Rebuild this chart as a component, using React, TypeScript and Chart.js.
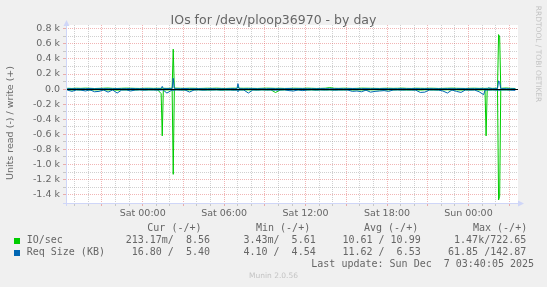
import React, { useEffect, useRef } from 'react';
import { Chart, registerables } from 'chart.js';

Chart.register(...registerables);

// Time axis: hours relative to Sat 00:00, base samples every 20 minutes
const baseStartHour = -5.55;
const baseStepHour = 1 / 3;

// IO/sec write (+)
const ioWriteBase = [
  11, 9, 12, 10, 13, 11, 8, 10, 12, 14,
  10, 9, 11, 13, 12, 10, 9, 11, 12, 10,
  11, 12, 10, 9, 13, 11, 10, 12, 11, 9,
  10, 12, 11, 13, 10, 9, 11, 12, 10, 11,
  12, 10, 9, 11, 13, 12, 10, 11, 9, 10,
  12, 11, 10, 13, 11, 9, 10, 12, 20, 11,
  10, 12, 11, 9, 10, 13, 12, 11, 10, 9,
  11, 12, 10, 11, 13, 10, 9, 12, 11, 10,
  12, 11, 9, 10, 12, 13, 11, 10, 9, 11,
  12, 10, 11, 12, 10, 9, 11, 15, 10, 8.56,
];
// IO/sec read (-)
const ioReadBase = [
  -10, -12, -9, -11, -8, -13, -10, -9, -12, -11,
  -10, -14, -9, -11, -10, -12, -8, -11, -10, -9,
  -12, -10, -11, -13, -9, -10, -12, -11, -10, -9,
  -11, -12, -10, -9, -13, -11, -10, -12, -9, -10,
  -11, -10, -12, -9, -11, -10, -45, -12, -10, -11,
  -9, -10, -12, -11, -10, -13, -9, -11, -10, -12,
  -10, -11, -9, -12, -10, -11, -13, -10, -9, -11,
  -12, -10, -11, -9, -10, -12, -11, -10, -13, -9,
  -10, -11, -12, -10, -9, -11, -10, -12, -11, -10,
  -9, -12, -10, -11, -10, -12, -9, -11, -10, -0.21,
];
// Req Size write (+)
const reqWriteBase = [
  6, 5, 7, 5, 6, 8, 5, 6, 7, 5,
  6, 7, 5, 6, 8, 6, 5, 7, 6, 5,
  6, 5, 7, 6, 5, 6, 8, 5, 6, 7,
  5, 6, 7, 5, 6, 5, 7, 6, 8, 5,
  6, 7, 5, 6, 5, 7, 6, 5, 6, 8,
  5, 6, 7, 5, 6, 5, 7, 6, 5, 6,
  7, 5, 6, 8, 5, 6, 7, 5, 6, 5,
  7, 6, 5, 6, 7, 5, 6, 8, 5, 6,
  7, 5, 6, 5, 7, 6, 5, 6, 7, 5,
  6, 5, 7, 15, 6, 5, 7, 6, 5, 5.4,
];
// Req Size read (-)
const reqReadBase = [
  -12, -30, -11, -13, -25, -10, -35, -30, -12, -40,
  -11, -52, -13, -10, -25, -12, -11, -14, -10, -12,
  -13, -11, -52, -12, -10, -13, -11, -39, -12, -10,
  -14, -11, -12, -10, -13, -11, -12, -14, -11, -12,
  -52, -11, -13, -10, -12, -11, -14, -12, -10, -20,
  -25, -11, -20, -12, -10, -13, -11, -12, -10, -14,
  -12, -11, -13, -30, -25, -35, -14, -40, -30, -25,
  -20, -30, -12, -11, -13, -10, -12, -14, -44, -40,
  -12, -11, -13, -25, -52, -12, -30, -44, -11, -13,
  -12, -35, -74, -12, -11, -13, -12, -10, -14, -16.8,
];

// Short bursts (5-minute samples)
const spikeHours = [1.36, 1.44, 1.52, 2.17, 2.25, 2.33, 6.94, 7.02, 7.1, 25.22, 25.3, 25.38, 26.14, 26.22, 26.3, 26.38];
const spikeIoRead = [-60, -620, -12, -10, -1130, -15, -9, -12, -10, -14, -620, -12, -11, -1470, -1420, -10];
const spikeIoWrite = [10, 12, 11, 12, 530, 14, 10, 30, 12, 9, 11, 10, 12, 722.65, 690, 11];
const spikeReqRead = [-12, -10, -14, -12, -20, -15, -12, -35, -11, -15, -14, -12, -13, -20, -18, -12];
const spikeReqWrite = [5, 36, 6, 6, 143, 7, 5, 72, 6, 5, 6, 5, 6, 110, 90, 5];

const xTickHours = [0, 6, 12, 18, 24];
const xTickLabels = ['Sat 00:00', 'Sat 06:00', 'Sat 12:00', 'Sat 18:00', 'Sun 00:00'];
const yTickValues = [800, 600, 400, 200, 0, -200, -400, -600, -800, -1000, -1200, -1400];
const yTickLabels = ['0.8 k', '0.6 k', '0.4 k', '0.2 k', '0.0', '-0.2 k', '-0.4 k', '-0.6 k', '-0.8 k', '-1.0 k', '-1.2 k', '-1.4 k'];

const legendNames = ['IO/sec', 'Req Size (KB)'];
const legendColors = ['#00CC00', '#0066B3'];
const curText = ['213.17m/  8.56', '16.80 /  5.40'];
const minText = ['3.43m/  5.61', '4.10 /  4.54'];
const avgText = ['10.61 / 10.99', '11.62 /  6.53'];
const maxText = ['1.47k/722.65', '61.85 /142.87'];
const headerText = ['Cur (-/+)', 'Min (-/+)', 'Avg (-/+)', 'Max (-/+)'];

const MGRID = 'rgba(222,79,79,0.42)';
const GRID = 'rgba(143,143,143,0.42)';
const AXIS = '#CFD6F8';
const FONT = '#666666';

function buildSeries(base: number[], spikes: number[]) {
  const pts: { x: number; y: number }[] = [];
  base.forEach((v, k) => {
    const t = baseStartHour + k * baseStepHour;
    if (spikeHours.some((s) => Math.abs(s - t) < 0.06)) return;
    pts.push({ x: t, y: v });
  });
  spikeHours.forEach((t, i) => pts.push({ x: t, y: spikes[i] }));
  pts.sort((a, b) => a.x - b.x);
  return pts;
}

const decorPlugin = {
  id: 'decor',
  beforeDraw(chart: any) {
    const { ctx, chartArea: a } = chart;
    ctx.save();
    ctx.fillStyle = '#FFFFFF';
    ctx.fillRect(a.left, a.top, a.right - a.left, a.bottom - a.top);
    ctx.restore();
  },
  afterDatasetsDraw(chart: any) {
    const { ctx, chartArea: a, scales } = chart;
    const y0 = Math.round(scales.y.getPixelForValue(0)) + 0.5;
    ctx.save();
    ctx.strokeStyle = '#000000';
    ctx.lineWidth = 1;
    ctx.beginPath();
    ctx.moveTo(a.left, y0);
    ctx.lineTo(a.right, y0);
    ctx.stroke();
    ctx.restore();
  },
  afterDraw(chart: any) {
    const { ctx, chartArea: a } = chart;
    const xl = a.left + 0.5;
    const yb = Math.round(a.bottom) + 0.5;
    ctx.save();
    ctx.strokeStyle = AXIS;
    ctx.fillStyle = AXIS;
    ctx.lineWidth = 1;
    ctx.beginPath();
    ctx.moveTo(a.left - 3, yb);
    ctx.lineTo(a.right + 1, yb);
    ctx.moveTo(xl, a.bottom + 3);
    ctx.lineTo(xl, a.top - 2);
    ctx.stroke();
    ctx.beginPath();
    ctx.moveTo(a.right, yb - 3);
    ctx.lineTo(a.right + 6, yb);
    ctx.lineTo(a.right, yb + 3);
    ctx.closePath();
    ctx.fill();
    ctx.beginPath();
    ctx.moveTo(xl - 3, a.top + 1);
    ctx.lineTo(xl, a.top - 5);
    ctx.lineTo(xl + 3, a.top + 1);
    ctx.closePath();
    ctx.fill();
    ctx.restore();
  },
};

const isMult = (v: number, m: number) => Math.abs(v / m - Math.round(v / m)) < 1e-6;

export default function App() {
  const canvasRef = useRef<HTMLCanvasElement | null>(null);

  useEffect(() => {
    if (!canvasRef.current) return;
    const tickFont = { family: 'DejaVu Sans', size: 9.5 };
    const chart = new Chart(canvasRef.current, {
      type: 'line',
      data: {
        datasets: [
          { label: 'Req Size write', data: buildSeries(reqWriteBase, spikeReqWrite), borderColor: '#0066B3' },
          { label: 'Req Size read', data: buildSeries(reqReadBase, spikeReqRead), borderColor: '#0066B3' },
          { label: 'IO/sec write', data: buildSeries(ioWriteBase, spikeIoWrite), borderColor: '#00CC00' },
          { label: 'IO/sec read', data: buildSeries(ioReadBase, spikeIoRead), borderColor: '#00CC00' },
        ],
      },
      options: {
        animation: false,
        responsive: false,
        maintainAspectRatio: false,
        devicePixelRatio: 1,
        events: [],
        layout: { padding: { left: 0, right: 29, top: 25, bottom: 64 } },
        plugins: { legend: { display: false }, title: { display: false }, tooltip: { enabled: false } },
        elements: { point: { radius: 0 }, line: { borderWidth: 1, tension: 0, fill: false } },
        scales: {
          x: {
            type: 'linear',
            min: -5.65,
            max: 27.65,
            afterFit: (s: any) => { s.height = 20; },
            ticks: {
              stepSize: 1,
              autoSkip: false,
              maxRotation: 0,
              minRotation: 0,
              includeBounds: false,
              padding: 2,
              color: FONT,
              font: tickFont,
              callback: (v: any) => {
                const i = xTickHours.indexOf(Number(v));
                return i >= 0 ? xTickLabels[i] : '';
              },
            },
            grid: {
              color: (c: any) => (isMult(c.tick.value, 3) ? MGRID : GRID),
              tickColor: (c: any) => (isMult(c.tick.value, 3) ? MGRID : GRID),
              tickLength: 3,
              lineWidth: 1,
            },
            border: { display: false, dash: [1, 1] },
          },
          y: {
            type: 'linear',
            min: -1510,
            max: 850,
            afterFit: (s: any) => { s.width = 66; },
            ticks: {
              stepSize: 100,
              autoSkip: false,
              includeBounds: false,
              padding: 3,
              color: FONT,
              font: tickFont,
              callback: (v: any) => {
                const i = yTickValues.indexOf(Number(v));
                return i >= 0 ? yTickLabels[i] : '';
              },
            },
            grid: {
              color: (c: any) => (c.tick.value <= -1500 ? 'rgba(0,0,0,0)' : isMult(c.tick.value, 200) ? MGRID : GRID),
              tickColor: (c: any) => (c.tick.value <= -1500 ? 'rgba(0,0,0,0)' : isMult(c.tick.value, 200) ? MGRID : GRID),
              tickLength: 3,
              lineWidth: 1,
            },
            border: { display: false, dash: [1, 1] },
          },
        },
      },
      plugins: [decorPlugin],
    } as any);
    return () => chart.destroy();
  }, []);

  const mono: React.CSSProperties = {
    position: 'absolute',
    fontFamily: '"DejaVu Sans Mono", monospace',
    fontSize: 10,
    lineHeight: '10px',
    color: FONT,
    whiteSpace: 'pre',
  };
  const rowBase = [243.3, 255.5];
  const valueRight = [210, 315.7, 420.7, 526.3];
  const valueCols = [curText, minText, avgText, maxText];
  const headerLeft = [147.3, 256, 364, 473];

  return (
    <div style={{ position: 'absolute', left: 0, top: 0, width: 547, height: 287, background: '#F0F0F0', overflow: 'hidden' }}>
      <canvas ref={canvasRef} width={547} height={287} style={{ display: 'block', width: 547, height: 287 }} />
      <div style={{ position: 'absolute', left: 0, width: 547, top: 24.3 - 10.6, textAlign: 'center', fontFamily: '"DejaVu Sans"', fontSize: 12.5, lineHeight: '12.5px', color: FONT, whiteSpace: 'pre' }}>
        IOs for /dev/ploop36970 - by day
      </div>
      <div style={{ position: 'absolute', left: 10 - 100, top: 123.3 - 5, width: 200, height: 10, textAlign: 'center', fontFamily: '"DejaVu Sans"', fontSize: 9.5, lineHeight: '10px', color: FONT, transform: 'rotate(-90deg)', whiteSpace: 'pre' }}>
        Units read (-) / write (+)
      </div>
      <div style={{ position: 'absolute', left: 537.7 - 60, top: 53.5 - 4, width: 120, height: 8, textAlign: 'center', fontFamily: '"DejaVu Sans"', fontSize: 7.5, lineHeight: '8px', color: '#C4C4C4', transform: 'rotate(90deg)', whiteSpace: 'pre' }}>
        RRDTOOL / TOBI OETIKER
      </div>
      {headerText.map((h, i) => (
        <div key={'h' + i} style={{ ...mono, left: headerLeft[i], top: 231 - 8.46 }}>{h}</div>
      ))}
      {legendNames.map((n, r) => (
        <React.Fragment key={'r' + r}>
          <div style={{ position: 'absolute', left: 14, top: rowBase[r] - 5.6, width: 6, height: 6, background: legendColors[r] }} />
          <div style={{ ...mono, left: 26.7, top: rowBase[r] - 8.46 }}>{n}</div>
          {valueCols.map((col, c) => (
            <div key={'v' + c} style={{ ...mono, right: 547 - valueRight[c], top: rowBase[r] - 8.46, textAlign: 'right' }}>{col[r]}</div>
          ))}
        </React.Fragment>
      ))}
      <div style={{ ...mono, left: 311.3, top: 267.5 - 8.46 }}>Last update: Sun Dec  7 03:40:05 2025</div>
      <div style={{ position: 'absolute', left: 0, width: 547, top: 278.5 - 6.35, textAlign: 'center', fontFamily: '"DejaVu Sans"', fontSize: 7.5, lineHeight: '7.5px', color: '#C4C4C4', whiteSpace: 'pre' }}>
        Munin 2.0.56
      </div>
    </div>
  );
}
